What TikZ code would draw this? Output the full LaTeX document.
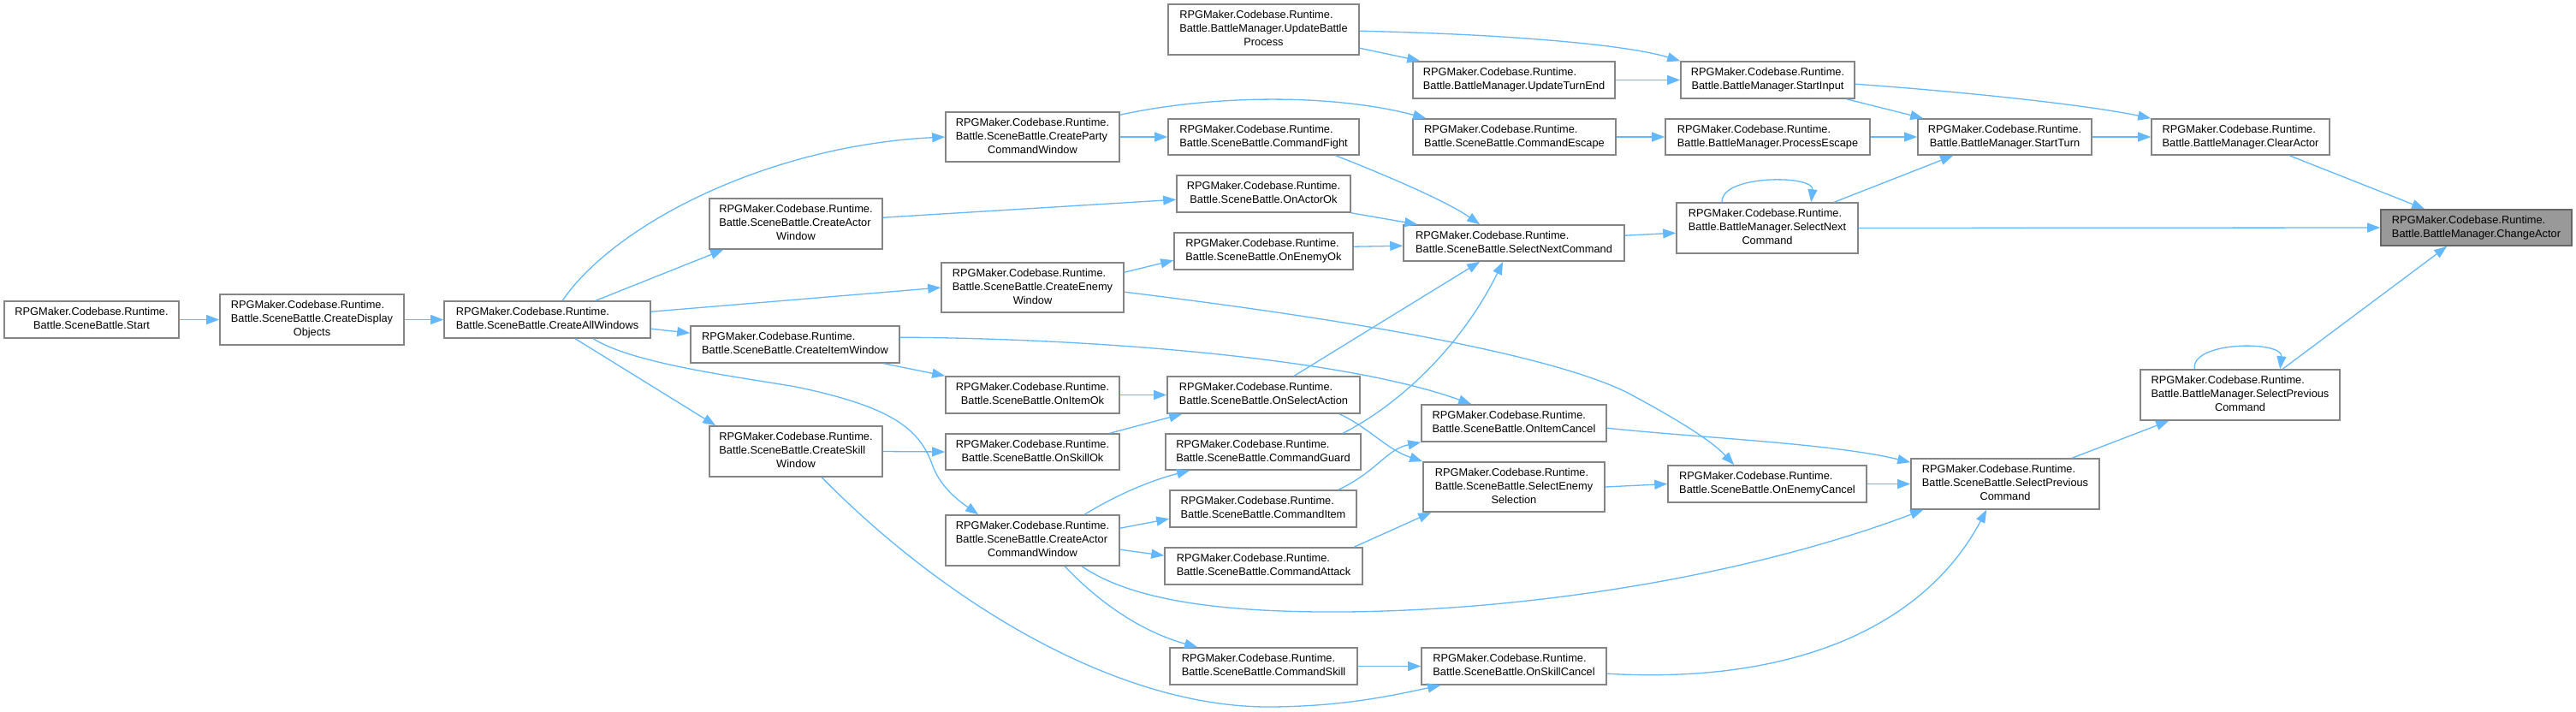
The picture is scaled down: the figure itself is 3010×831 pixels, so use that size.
\documentclass[tikz,border=0pt]{standalone}
\usepackage{fontspec}
\setmainfont{Liberation Sans}
\usetikzlibrary{arrows.meta}
\definecolor{edgec}{HTML}{63B8FF}
\definecolor{bordc}{HTML}{858585}
\definecolor{hlfill}{HTML}{999999}
\definecolor{hlbord}{HTML}{666666}
\newcommand\nd[7]{\node[#1, minimum width={(#5-#3)*1pt}, minimum height={(#6-#4)*1pt}] (#2) at ({(#3+#5)/2},{(#4+#6)/2}) {#7};}
\newcommand\two[1]{\begin{tabular}{@{}l@{}}RPGMaker.Codebase.Runtime.\\\multicolumn{1}{@{}c@{}}{#1}\end{tabular}}
\newcommand\three[2]{\begin{tabular}{@{}l@{}}RPGMaker.Codebase.Runtime.\\#1\\\multicolumn{1}{@{}c@{}}{#2}\end{tabular}}
\begin{document}
\begin{tikzpicture}[x=1pt,y=-1pt,
  font=\fontsize{12.8}{16}\selectfont,
  box/.style={draw=bordc, line width=1.6pt, fill=white, inner sep=0pt, rectangle},
  hl/.style={draw=hlbord, line width=1.6pt, fill=hlfill, inner sep=0pt, rectangle},
  edge/.style={draw=edgec, line width=1.3pt, -{Triangle[length=15pt,width=11pt]}}]
\useasboundingbox (0,0) rectangle (3010,831);
\fill[white] (0,0) rectangle (3010,831);
% nodes
\nd{box}{start}{5}{352}{209}{395}{\two{Battle.SceneBattle.Start}}
\nd{box}{cdo}{257}{344}{472}{403}{\three{Battle.SceneBattle.CreateDisplay}{Objects}}
\nd{box}{caw}{519}{352}{760}{395}{\two{Battle.SceneBattle.CreateAllWindows}}
\nd{box}{cpcw}{1105}{131}{1308}{189}{\three{Battle.SceneBattle.CreateParty}{CommandWindow}}
\nd{box}{cawin}{829}{232}{1031}{291}{\three{Battle.SceneBattle.CreateActor}{Window}}
\nd{box}{cew}{1100}{307}{1313}{365}{\three{Battle.SceneBattle.CreateEnemy}{Window}}
\nd{box}{ciw}{807}{381}{1051}{424}{\two{Battle.SceneBattle.CreateItemWindow}}
\nd{box}{csw}{829}{498}{1031}{557}{\three{Battle.SceneBattle.CreateSkill}{Window}}
\nd{box}{cacw}{1105}{602}{1308}{661}{\three{Battle.SceneBattle.CreateActor}{CommandWindow}}
\nd{box}{ubp}{1365}{5}{1588}{64}{\three{Battle.BattleManager.UpdateBattle}{Process}}
\nd{box}{cfight}{1365}{139}{1588}{181}{\two{Battle.SceneBattle.CommandFight}}
\nd{box}{oao}{1375}{205}{1578}{248}{\two{Battle.SceneBattle.OnActorOk}}
\nd{box}{oeo}{1372}{272}{1581}{315}{\two{Battle.SceneBattle.OnEnemyOk}}
\nd{box}{oio}{1105}{440}{1308}{483}{\two{Battle.SceneBattle.OnItemOk}}
\nd{box}{osa}{1364}{440}{1589}{483}{\two{Battle.SceneBattle.OnSelectAction}}
\nd{box}{oso}{1105}{507}{1308}{549}{\two{Battle.SceneBattle.OnSkillOk}}
\nd{box}{cguard}{1362}{507}{1590}{549}{\two{Battle.SceneBattle.CommandGuard}}
\nd{box}{citem}{1367}{573}{1585}{616}{\two{Battle.SceneBattle.CommandItem}}
\nd{box}{cattack}{1361}{640}{1592}{683}{\two{Battle.SceneBattle.CommandAttack}}
\nd{box}{cskill}{1367}{757}{1586}{800}{\two{Battle.SceneBattle.CommandSkill}}
\nd{box}{ute}{1651}{72}{1887}{115}{\two{Battle.BattleManager.UpdateTurnEnd}}
\nd{box}{si}{1964}{72}{2167}{115}{\two{Battle.BattleManager.StartInput}}
\nd{box}{cesc}{1651}{139}{1888}{181}{\two{Battle.SceneBattle.CommandEscape}}
\nd{box}{pe}{1946}{139}{2185}{181}{\two{Battle.BattleManager.ProcessEscape}}
\nd{box}{st}{2241}{139}{2444}{181}{\two{Battle.BattleManager.StartTurn}}
\nd{box}{ca}{2514}{139}{2722}{181}{\two{Battle.BattleManager.ClearActor}}
\nd{box}{sbsnc}{1640}{263}{1898}{305}{\two{Battle.SceneBattle.SelectNextCommand}}
\nd{box}{bmsnc}{1959}{237}{2171}{296}{\three{Battle.BattleManager.SelectNext}{Command}}
\nd{hl}{chg}{2782}{245}{3005}{287}{\two{Battle.BattleManager.ChangeActor}}
\nd{box}{oic}{1661}{473}{1877}{516}{\two{Battle.SceneBattle.OnItemCancel}}
\nd{box}{ses}{1663}{540}{1875}{598}{\three{Battle.SceneBattle.SelectEnemy}{Selection}}
\nd{box}{oec}{1949}{544}{2181}{587}{\two{Battle.SceneBattle.OnEnemyCancel}}
\nd{box}{sbspc}{2233}{536}{2453}{595}{\three{Battle.SceneBattle.SelectPrevious}{Command}}
\nd{box}{bmspc}{2501}{432}{2734}{491}{\three{Battle.BattleManager.SelectPrevious}{Command}}
\nd{box}{osc}{1661}{757}{1877}{800}{\two{Battle.SceneBattle.OnSkillCancel}}
% edges
\path[edge] (start.east) -- (cdo.west);
\path[edge] (cdo.east) -- (caw.west);
\path[edge] ([xshift=139pt]caw.north west) .. controls (720,260) and (900,170) .. (cpcw.west);
\path[edge] ([xshift=178pt]caw.north west) -- ([xshift=17pt]cawin.south west);
\path[edge] ([yshift=-13pt]caw.north east) -- (cew.west);
\path[edge] ([yshift=-33pt]caw.north east) -- ([yshift=-9pt]ciw.north west);
\path[edge] ([xshift=175pt]caw.south west) .. controls (740,425) and (860,440) .. (930,452) .. controls (1040,475) and (1075,500) .. (1090,545) .. controls (1100,570) and (1120,585) .. ([xshift=39pt]cacw.north west);
\path[edge] ([xshift=154pt]caw.south west) -- ([xshift=8pt]csw.north west);
\path[edge] (cpcw.east) -- (cfight.west);
\path[edge] ([yshift=-4pt]cpcw.north east) .. controls (1420,110) and (1560,110) .. ([xshift=16pt]cesc.north west);
\path[edge] ([yshift=-23pt]cawin.north east) -- ([yshift=-29pt]oao.north west);
\path[edge] ([yshift=-12pt]cew.north east) -- ([yshift=-33pt]oeo.north west);
\path[edge] ([yshift=-35pt]cew.north east) .. controls (1550,370) and (1800,410) .. (1900,458) .. controls (1960,490) and (2000,515) .. ([xshift=78pt]oec.north west);
\path[edge] ([xshift=-19pt]ciw.south east) -- (oio.north west);
\path[edge] ([yshift=-14pt]ciw.north east) .. controls (1250,395) and (1560,415) .. ([xshift=59pt]oic.north west);
\path[edge] (oio.east) -- (osa.west);
\path[edge] ([xshift=-12pt]oso.north east) -- ([xshift=18pt]osa.south west);
\path[edge] (csw.east) -- (oso.west);
\path[edge] ([xshift=132pt]csw.south west) .. controls (1100,700) and (1300,825) .. (1480,826) .. controls (1570,826) and (1630,812) .. ([xshift=23pt]osc.south west);
\path[edge] ([xshift=163pt]cacw.north west) .. controls (1310,575) and (1350,560) .. ([xshift=29pt]cguard.south west);
\path[edge] ([yshift=-16pt]cacw.north east) -- ([yshift=-34pt]citem.north west);
\path[edge] ([yshift=-41pt]cacw.north east) -- ([yshift=-10pt]cattack.north west);
\path[edge] ([xshift=140pt]cacw.south west) .. controls (1290,710) and (1340,740) .. ([xshift=33pt]cskill.north west);
\path[edge] ([xshift=160pt]cacw.south west) .. controls (1320,700) and (1420,716) .. (1570,715) .. controls (1800,713) and (2050,670) .. ([xshift=15pt]sbspc.south west);
\path[edge] ([xshift=-28pt]cfight.south east) .. controls (1620,205) and (1690,235) .. ([xshift=90pt]sbsnc.north west);
\path[edge] (oao.south east) -- ([xshift=17pt]sbsnc.north west);
\path[edge] ([yshift=-17pt]oeo.north east) -- ([yshift=-25pt]sbsnc.north west);
\path[edge] ([xshift=149pt]osa.north west) -- ([xshift=90pt]sbsnc.south west);
\path[edge] ([xshift=208pt]cguard.north west) .. controls (1640,470) and (1710,400) .. ([xshift=117pt]sbsnc.south west);
\path[edge] ([xshift=202pt]osa.south west) .. controls (1600,500) and (1620,525) .. (ses.north west);
\path[edge] ([xshift=198pt]citem.north west) .. controls (1610,550) and (1620,525) .. (oic.south west);
\path[edge] ([xshift=222pt]cattack.north west) -- ([xshift=10pt]ses.south west);
\path[edge] (cskill.east) -- (osc.west);
\path[edge] (ses.east) -- (oec.west);
\path[edge] ([yshift=-28pt]oic.north east) .. controls (1990,512) and (2140,518) .. ([yshift=-5pt]sbspc.north west);
\path[edge] (oec.east) -- (sbspc.west);
\path[edge] ([yshift=-31pt]osc.north east) .. controls (2100,800) and (2250,730) .. ([xshift=89pt]sbspc.south west);
\path[edge] ([xshift=189pt]sbspc.north west) -- ([xshift=34pt]bmspc.south west);
\path[edge] ([xshift=64pt]bmspc.north west) .. controls (2560,398) and (2668,398) .. ([xshift=164pt]bmspc.north west);
\path[edge] ([xshift=167pt]bmspc.north west) -- ([xshift=78pt]chg.south west);
\path[edge] ([yshift=-52pt]ubp.north east) -- ([xshift=9pt]ute.north west);
\path[edge] ([yshift=-32pt]ubp.north east) .. controls (1760,40) and (1900,52) .. (si.north west);
\path[edge] (ute.east) -- (si.west);
\path[edge] ([xshift=-10pt]si.south east) -- ([xshift=7pt]st.north west);
\path[edge] ([yshift=-27pt]si.north east) .. controls (2330,110) and (2450,125) .. (ca.north west);
\path[edge] (cesc.east) -- (pe.west);
\path[edge] (pe.east) -- (st.west);
\path[edge] (st.east) -- (ca.west);
\path[edge] ([xshift=162pt]ca.south west) -- ([xshift=52pt]chg.north west);
\path[edge] ([xshift=185pt]bmsnc.north west) -- ([xshift=42pt]st.south west);
\path[edge] ([xshift=54pt]bmsnc.north west) .. controls (2010,204) and (2120,204) .. ([xshift=158pt]bmsnc.north west);
\path[edge] (bmsnc.east) -- (chg.west);
\path[edge] ([yshift=-13pt]sbsnc.north east) -- ([yshift=-36pt]bmsnc.north west);
\end{tikzpicture}
\end{document}
